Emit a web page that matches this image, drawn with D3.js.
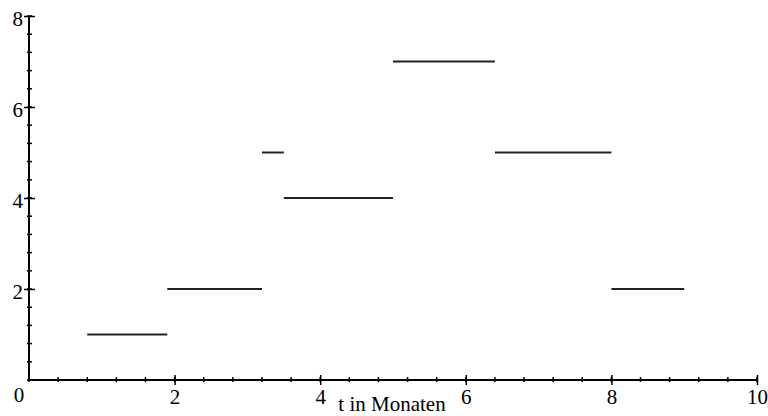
<!DOCTYPE html>
<html>
<head>
<meta charset="utf-8">
<script src="https://cdn.jsdelivr.net/npm/d3@7"></script>
<style>
  body { margin: 0; background: #fff; }
  svg { display: block; }
  text { font-family: "Liberation Serif", "DejaVu Serif", serif; font-size: 21px; fill: #000; }
</style>
</head>
<body>
<svg id="chart" width="768" height="416"></svg>
<script>
// step segments: start, end, level
var segStart = [0.8, 1.9, 3.2, 3.5, 5.0, 6.4, 8.0];
var segEnd   = [1.9, 3.2, 3.5, 5.0, 6.4, 8.0, 9.0];
var segLevel = [1,   2,   5,   4,   7,   5,   2];

var xMajor = [2, 4, 6, 8, 10];
var yMajor = [2, 4, 6, 8];
var xTitle = "t in Monaten";

var svg = d3.select("#chart");

var x = d3.scaleLinear().domain([0, 10]).range([29, 757]);
var y = d3.scaleLinear().domain([0, 8]).range([380, 16]);

// minor ticks every 0.4
var minor = d3.range(0, 10.001, 0.4).map(function (v) { return +v.toFixed(1); });
var yMinor = d3.range(0, 8.001, 0.4).map(function (v) { return +v.toFixed(1); });

// x axis
var gx = svg.append("g").attr("transform", "translate(0," + y(0) + ")");
gx.append("line")
    .attr("x1", x(0)).attr("x2", x(10))
    .attr("stroke", "#000").attr("stroke-width", 2);
gx.selectAll(".minor").data(minor).enter().append("line")
    .attr("class", "minor")
    .attr("x1", function (d) { return x(d); }).attr("x2", function (d) { return x(d); })
    .attr("y1", -3).attr("y2", 2)
    .attr("stroke", "#000").attr("stroke-width", 1.5);
var xa = d3.axisBottom(x).tickValues(xMajor).tickSize(5).tickPadding(4)
    .tickFormat(d3.format("d"));
var gxa = svg.append("g").attr("transform", "translate(0," + y(0) + ")").call(xa);
gxa.attr("font-family", null).attr("font-size", null);
gxa.select(".domain").remove();
gxa.selectAll(".tick line").attr("y1", -5).attr("stroke-width", 1.5);

// y axis
var gy = svg.append("g").attr("transform", "translate(" + x(0) + ",0)");
gy.append("line")
    .attr("y1", y(0)).attr("y2", y(8))
    .attr("stroke", "#000").attr("stroke-width", 2);
gy.selectAll(".minor").data(yMinor).enter().append("line")
    .attr("class", "minor")
    .attr("y1", function (d) { return y(d); }).attr("y2", function (d) { return y(d); })
    .attr("x1", -2).attr("x2", 3)
    .attr("stroke", "#000").attr("stroke-width", 1.5);
var ya = d3.axisLeft(y).tickValues(yMajor).tickSize(5).tickPadding(1)
    .tickFormat(d3.format("d"));
var gya = svg.append("g").attr("transform", "translate(" + x(0) + ",0)").call(ya);
gya.attr("font-family", null).attr("font-size", null);
gya.select(".domain").remove();
gya.selectAll(".tick line").attr("x2", 6).attr("x1", -5).attr("stroke-width", 1.5);
gya.selectAll(".tick text").attr("dy", "0.45em");

// the zero at the origin
svg.append("text")
    .attr("x", x(0) - 10).attr("y", y(0) + 22)
    .attr("text-anchor", "middle")
    .text("0");

// axis title
svg.append("text")
    .attr("x", 392).attr("y", 411)
    .attr("text-anchor", "middle")
    .text(xTitle);

// steps
svg.selectAll(".seg").data(segLevel).enter().append("line")
    .attr("class", "seg")
    .attr("x1", function (d, i) { return x(segStart[i]); })
    .attr("x2", function (d, i) { return x(segEnd[i]); })
    .attr("y1", function (d) { return y(d); })
    .attr("y2", function (d) { return y(d); })
    .attr("stroke", "#222").attr("stroke-width", 2);
</script>
</body>
</html>
